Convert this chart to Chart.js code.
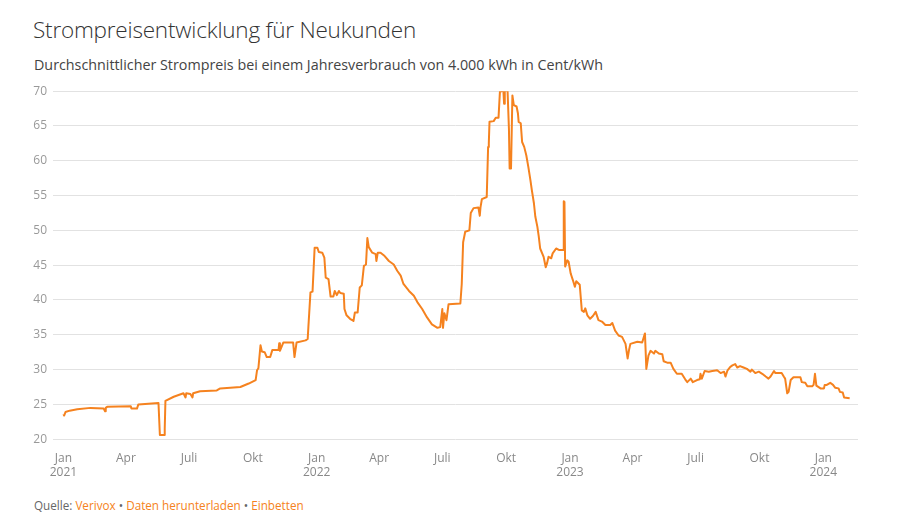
<!DOCTYPE html>
<html lang="de">
<head>
<meta charset="utf-8">
<script src="https://cdn.jsdelivr.net/npm/chart.js@4/dist/chart.umd.min.js"></script>
<style>
  html, body { margin: 0; padding: 0; background: #fff; }
  body { width: 908px; height: 532px; position: relative; overflow: hidden; font-family: "Open Sans", "Noto Sans", sans-serif; }
  #title { position: absolute; left: 33px; top: 14px; font-size: 22.5px; font-weight: 300; color: #333; line-height: 32px; white-space: nowrap; letter-spacing: -0.2px; }
  #subtitle { position: absolute; left: 34px; top: 55px; font-size: 14.3px; color: #444; line-height: 20px; white-space: nowrap; }
  #footer { position: absolute; left: 34px; top: 496px; font-size: 11.7px; color: #666; line-height: 18px; white-space: nowrap; }
  #footer a { color: #f58220; text-decoration: none; }
  #footer .dot { color: #666; }
  #wrap { position: absolute; left: 0; top: 78px; width: 908px; height: 406px; }
</style>
</head>
<body>
<div id="title">Strompreisentwicklung für Neukunden</div>
<div id="subtitle">Durchschnittlicher Strompreis bei einem Jahresverbrauch von 4.000 kWh in Cent/kWh</div>
<div id="wrap"><canvas id="c"></canvas></div>
<div id="footer">Quelle: <a href="#">Verivox</a> <span class="dot">•</span> <a href="#">Daten herunterladen</a> <span class="dot">•</span> <a href="#">Einbetten</a></div>
<script>
const dates = [
'2021-01-01','2021-01-02','2021-01-04','2021-01-10','2021-01-21','2021-02-09','2021-02-28','2021-03-02','2021-03-03','2021-03-05','2021-04-08',
'2021-04-09','2021-04-17','2021-04-19','2021-05-18','2021-05-20','2021-05-26','2021-05-27','2021-05-28','2021-06-09','2021-06-23',
'2021-06-26','2021-06-27','2021-07-03','2021-07-06','2021-07-07','2021-07-17','2021-08-10','2021-08-15','2021-09-13','2021-09-25',
'2021-10-05','2021-10-07','2021-10-09','2021-10-12','2021-10-14','2021-10-18','2021-10-21','2021-10-26','2021-10-29','2021-11-07',
'2021-11-08','2021-11-09','2021-11-14','2021-11-28','2021-11-30','2021-12-03','2021-12-16','2021-12-19','2021-12-20','2021-12-23',
'2021-12-26','2021-12-29','2022-01-02','2022-01-04','2022-01-09','2022-01-12','2022-01-14','2022-01-18','2022-01-21','2022-01-25',
'2022-01-27','2022-01-30','2022-02-02','2022-02-04','2022-02-09','2022-02-10','2022-02-13','2022-02-18','2022-02-23','2022-02-25',
'2022-03-01','2022-03-04','2022-03-07','2022-03-10','2022-03-13','2022-03-15','2022-03-17','2022-03-22','2022-03-27','2022-03-28',
'2022-03-30','2022-04-03','2022-04-08','2022-04-15','2022-04-22','2022-04-27','2022-05-02','2022-05-06','2022-05-14','2022-05-21',
'2022-05-26','2022-06-02','2022-06-09','2022-06-16','2022-06-24','2022-06-28','2022-07-01','2022-07-02','2022-07-04','2022-07-07',
'2022-07-10','2022-07-27','2022-07-29','2022-07-31','2022-08-03','2022-08-09','2022-08-11','2022-08-15','2022-08-22','2022-08-24',
'2022-08-25','2022-08-27','2022-09-03','2022-09-05','2022-09-06','2022-09-07','2022-09-13','2022-09-16','2022-09-20','2022-09-22',
'2022-09-27','2022-09-28','2022-09-29','2022-10-03','2022-10-05','2022-10-06','2022-10-08','2022-10-10','2022-10-12','2022-10-16',
'2022-10-18','2022-10-19','2022-10-22','2022-10-24','2022-10-27','2022-10-30','2022-11-02','2022-11-05','2022-11-07','2022-11-10',
'2022-11-12','2022-11-15','2022-11-17','2022-11-19','2022-11-24','2022-11-27','2022-11-29','2022-12-01','2022-12-05','2022-12-07',
'2022-12-12','2022-12-16','2022-12-22','2022-12-23','2022-12-24','2022-12-25','2022-12-28','2022-12-30','2023-01-02','2023-01-05',
'2023-01-08','2023-01-10','2023-01-15','2023-01-18','2023-01-21','2023-01-23','2023-01-26','2023-01-30','2023-02-03','2023-02-07',
'2023-02-11','2023-02-16','2023-02-21','2023-02-28','2023-03-03','2023-03-07','2023-03-12','2023-03-17','2023-03-22','2023-03-25',
'2023-03-27','2023-03-29','2023-04-08','2023-04-15','2023-04-19','2023-04-21','2023-04-24','2023-04-27','2023-05-02','2023-05-04',
'2023-05-09','2023-05-14','2023-05-16','2023-05-21','2023-05-26','2023-05-30','2023-06-04','2023-06-11','2023-06-16','2023-06-19',
'2023-06-24','2023-06-27','2023-07-03','2023-07-07','2023-07-08','2023-07-10','2023-07-14','2023-07-20','2023-07-25','2023-08-01',
'2023-08-06','2023-08-11','2023-08-13','2023-08-16','2023-08-20','2023-08-23','2023-08-27','2023-08-30','2023-09-03','2023-09-08',
'2023-09-13','2023-09-18','2023-09-20','2023-09-25','2023-09-30','2023-10-05','2023-10-10','2023-10-14','2023-10-17','2023-10-22',
'2023-10-24','2023-11-02','2023-11-05','2023-11-07','2023-11-10','2023-11-12','2023-11-15','2023-11-19','2023-11-29','2023-12-01',
'2023-12-06','2023-12-09','2023-12-16','2023-12-18','2023-12-20','2023-12-22','2023-12-28','2024-01-02','2024-01-03','2024-01-06',
'2024-01-11','2024-01-15','2024-01-18','2024-01-23','2024-01-25','2024-01-29','2024-01-31','2024-02-08'
];
const prices = [
23.6,23.4,23.9,24.1,24.3,24.5,24.4,24.0,24.5,24.65,24.75,
24.4,24.4,25.0,25.2,20.6,20.6,21.5,25.5,26.1,26.6,
26.0,26.6,26.5,26.0,26.6,26.9,27.0,27.3,27.5,28.0,
28.5,29.9,30.2,33.5,32.6,32.5,31.8,31.8,32.8,32.8,
33.8,32.7,33.9,33.9,31.8,33.9,34.2,34.4,36.1,41.1,
41.2,47.5,47.5,46.9,46.8,46.1,43.2,43.0,40.5,40.5,
41.3,40.7,41.3,41.0,40.9,38.7,37.8,37.3,37.0,38.2,
38.2,41.8,42.1,44.9,45.1,48.9,47.6,46.8,46.6,45.6,
46.8,46.8,46.4,45.6,45.1,44.2,43.5,42.3,41.3,40.6,
39.7,38.7,37.5,36.5,36.0,36.1,38.7,36.0,38.1,37.1,
39.4,39.5,42.3,48.3,49.8,50.0,52.5,53.2,53.3,52.1,
53.3,54.5,54.8,62.0,62.5,65.6,65.7,66.2,66.2,69.9,
70.1,68.2,70.1,70.1,64.6,58.9,58.9,69.4,68.0,67.8,
66.8,65.6,65.4,62.7,62.0,60.8,59.1,57.2,55.8,53.9,
52.0,50.5,49.1,47.4,46.2,44.7,45.3,46.2,46.0,46.7,
47.4,47.2,47.2,54.2,54.1,44.8,45.7,45.5,43.8,42.9,
41.9,42.7,42.2,38.5,38.3,38.8,37.8,37.3,37.7,38.3,
37.1,36.9,36.4,36.4,36.7,35.6,34.9,34.7,33.7,31.6,
32.8,33.7,34.0,33.9,35.2,30.1,32.0,32.7,32.3,32.7,
32.3,32.2,31.2,31.0,31.0,30.1,29.4,29.4,28.6,28.2,
28.7,28.2,28.5,28.6,29.4,28.7,29.8,29.7,29.8,29.9,
29.5,29.7,29.0,29.9,30.4,30.6,30.8,30.3,30.5,30.3,
30.1,29.7,30.0,29.5,29.7,29.4,29.0,28.7,29.0,29.8,
29.5,29.5,29.0,28.7,26.6,26.8,28.5,28.9,28.9,28.2,
28.1,27.6,27.6,27.8,29.4,27.7,27.3,27.3,27.8,27.8,
28.1,27.8,27.4,27.3,26.8,26.7,26.0,25.9
];
const tickDates = ['2021-01-01','2021-04-01','2021-07-01','2021-10-01','2022-01-01','2022-04-01','2022-07-01','2022-10-01','2023-01-01','2023-04-01','2023-07-01','2023-10-01','2024-01-01'];
const tickLabels = ['Jan 2021','Apr','Juli','Okt','Jan 2022','Apr','Juli','Okt','Jan 2023','Apr','Juli','Okt','Jan 2024'];
const axisStart = '2020-12-17';
const axisEnd = '2024-02-20';
const yMin = 20, yMax = 70, yStep = 5;

const base = Date.parse('2021-01-01');
const dayOf = d => (Date.parse(d) - base) / 86400000;
const points = dates.map((d, i) => ({ x: dayOf(d), y: prices[i] }));
const tickDays = tickDates.map(dayOf);

new Chart(document.getElementById('c'), {
  type: 'line',
  data: { datasets: [{ data: points, borderColor: '#f5821f', borderWidth: 2, pointRadius: 0, tension: 0, fill: false, borderJoinStyle: 'round' }] },
  options: {
    responsive: true, maintainAspectRatio: false, animation: false,
    layout: { padding: { left: 0, right: 50, top: 2, bottom: 0 } },
    plugins: { legend: { display: false }, tooltip: { enabled: false } },
    scales: {
      x: {
        type: 'linear', min: dayOf(axisStart), max: dayOf(axisEnd),
        grid: { display: false }, border: { display: false },
        afterBuildTicks: axis => { axis.ticks = tickDays.map(v => ({ value: v })); },
        ticks: {
          autoSkip: false, maxRotation: 0, padding: 4, color: '#888',
          font: { family: '"Open Sans", sans-serif', size: 12 },
          callback: (v, i) => tickLabels[i].split(' ')
        }
      },
      y: {
        min: yMin, max: yMax,
        afterFit: s => { s.width = 53; },
        grid: { color: '#e2e2e2', drawTicks: false }, border: { display: false },
        ticks: { stepSize: yStep, padding: 6, color: '#999', font: { family: '"Open Sans", sans-serif', size: 12 } }
      }
    }
  }
});
</script>
</body>
</html>
